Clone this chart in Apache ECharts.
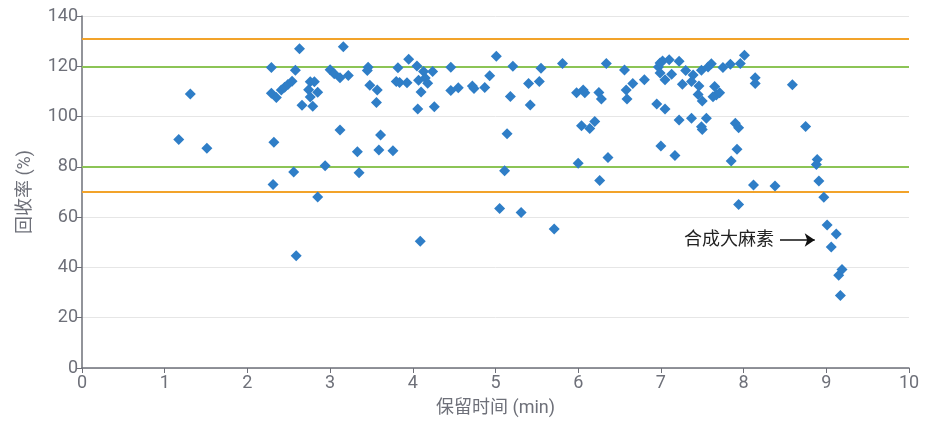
<!DOCTYPE html>
<html>
<head>
<meta charset="utf-8">
<script src="https://cdn.jsdelivr.net/npm/echarts@6/dist/echarts.min.js"></script>
<style>
html,body{margin:0;padding:0;background:#fff;}
#main{width:935px;height:425px;}
</style>
</head>
<body>
<div id="main"></div>
<script>
// Retention time (min) and recovery (%) pairs
const retentionTimes = [
  1.17,1.31,1.51,
  2.29,2.29,2.32,2.31,2.35,2.41,2.45,2.49,2.54,2.58,2.56,2.59,2.63,
  2.66,2.76,2.81,2.74,2.85,2.76,2.79,2.85,2.94,
  3.00,3.05,3.12,3.22,3.16,3.12,3.33,3.35,
  3.46,3.45,3.48,3.57,3.56,3.61,3.59,3.76,3.80,3.84,3.82,
  3.93,3.95,4.05,4.07,4.13,4.15,4.18,4.10,4.06,4.24,4.26,4.09,
  4.46,4.46,4.55,4.72,4.74,4.87,4.93,5.01,
  5.14,5.11,5.05,5.31,5.18,5.21,5.40,5.42,5.53,5.55,5.71,5.81,
  5.98,6.06,6.08,6.00,6.04,6.14,6.20,6.25,6.28,6.26,6.34,6.36,
  6.56,6.58,6.59,6.66,6.80,
  6.95,7.05,7.00,7.17,7.22,
  6.97,6.99,6.99,7.02,7.10,7.22,7.13,7.05,
  7.30,7.39,7.37,7.26,7.46,7.45,7.50,
  7.49,7.57,7.61,7.65,7.63,7.67,7.71,
  7.75,7.84,7.96,8.01,
  7.37,7.55,7.49,7.50,7.90,7.94,7.92,7.85,7.94,8.12,
  8.14,8.14,8.59,8.75,8.89,8.88,8.38,8.91,8.97,9.01,9.12,9.06,9.19,9.15,9.17
];
const recoveries = [
  90.9,109,87.4,
  119.5,109.3,89.8,73.0,107.6,110.6,111.7,112.8,114,118.4,78,44.6,127.0,
  104.5,113.8,113.8,110.7,109.7,107.8,104.1,68,80.4,
  118.6,117,115.4,116.3,127.8,94.7,86,77.7,
  119.6,118.3,112.5,110.6,105.6,92.7,86.7,86.4,113.9,113.6,119.4,
  113.5,122.8,120.1,114.4,117.9,115.3,113.3,109.8,103,117.9,103.9,50.4,
  119.6,110.4,111.5,112.2,111.2,111.6,116.2,124,
  93.2,78.5,63.4,61.8,108,120,113.2,104.6,113.9,119.2,55.3,121.1,
  109.5,110.6,109.5,81.4,96.3,95.3,98,109.6,107,74.6,121.1,83.7,
  118.5,110.6,107,113.2,114.6,
  105,103,88.3,84.5,98.6,
  119.7,117.3,121.3,122.1,122.6,122,116.8,114.6,
  118.3,116.5,113.9,112.9,112.2,108.8,106.2,
  118.4,119.7,121,112,107.9,108.6,109.5,
  119.5,120.8,121.1,124.4,
  99.3,99.3,96,94.9,97.3,95.6,87,82.3,65,72.8,
  115.4,113.2,112.7,96.1,82.9,80.9,72.4,74.4,67.9,56.9,53.3,48.1,39.2,36.9,28.8
];
const xTicks = [0,1,2,3,4,5,6,7,8,9,10];
const yTicks = [0,20,40,60,80,100,120,140];
const innerLimits = [80,120];   // green reference lines
const outerLimits = [70,131];   // orange reference lines
const annotationText = '合成大麻素';
const arrowFrom = [8.44, 50.9];
const arrowTo = [8.86, 50.9];

const points = retentionTimes.map((t,i)=>[t, recoveries[i]]);
const FONT = 'Roboto, "Noto Sans CJK SC", sans-serif';
const chart = echarts.init(document.getElementById('main'));
chart.setOption({
  animation:false,
  backgroundColor:'#fff',
  grid:{left:82,right:26,top:16,bottom:57},
  xAxis:{
    type:'value',min:xTicks[0],max:xTicks[xTicks.length-1],interval:1,
    name:'保留时间 (min)',nameLocation:'middle',nameGap:32,
    nameTextStyle:{fontFamily:FONT,fontSize:18,color:'#6E7079'},
    axisLine:{show:true,lineStyle:{color:'#6E7079',width:1.5}},
    axisTick:{show:true,length:5,lineStyle:{color:'#6E7079'}},
    axisLabel:{fontFamily:FONT,fontSize:18,color:'#6E7079',margin:7},
    splitLine:{show:false}
  },
  yAxis:{
    type:'value',min:yTicks[0],max:yTicks[yTicks.length-1],interval:20,
    name:'回收率 (%)',nameLocation:'middle',nameGap:48,
    nameTextStyle:{fontFamily:FONT,fontSize:18,color:'#6E7079'},
    axisLine:{show:true,lineStyle:{color:'#6E7079',width:1.5}},
    axisTick:{show:true,length:5,lineStyle:{color:'#6E7079'}},
    axisLabel:{fontFamily:FONT,fontSize:18,color:'#6E7079',margin:4},
    splitLine:{show:true,lineStyle:{color:'#E6E6E6',width:1}}
  },
  series:[
    {
      type:'scatter',
      data:points,
      symbol:'diamond',
      symbolSize:11,
      itemStyle:{color:'#2F7EC7',opacity:1},
      z:5,
      markLine:{
        silent:true,
        symbol:['none','none'],
        label:{show:false},
        data:[
          {yAxis:outerLimits[0],lineStyle:{color:'#F2A32A',width:2,type:'solid'}},
          {yAxis:outerLimits[1],lineStyle:{color:'#F2A32A',width:2,type:'solid'}},
          {yAxis:innerLimits[0],lineStyle:{color:'#8CC456',width:2,type:'solid'}},
          {yAxis:innerLimits[1],lineStyle:{color:'#8CC456',width:2,type:'solid'}}
        ]
      }
    },
    {
      type:'scatter',
      data:[],
      markLine:{
        silent:true,
        symbol:['none','arrow'],
        symbolSize:10,
        lineStyle:{color:'#111',width:1.5,type:'solid'},
        label:{show:true,position:'start',formatter:annotationText,
          fontFamily:FONT,fontSize:18,color:'#222',distance:6},
        data:[[{coord:arrowFrom},{coord:arrowTo}]]
      }
    }
  ]
});
</script>
</body>
</html>
